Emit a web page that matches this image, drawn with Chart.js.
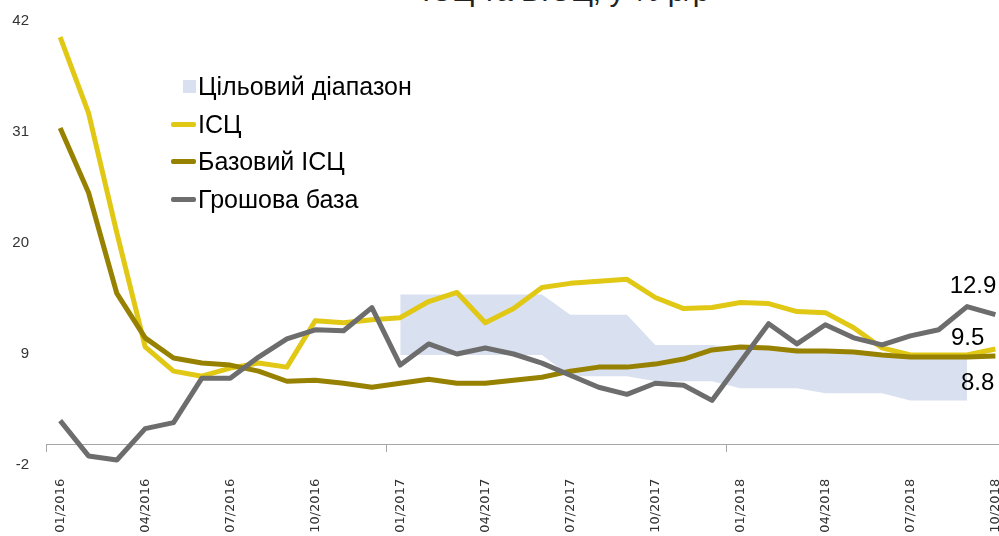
<!DOCTYPE html>
<html>
<head>
<meta charset="utf-8">
<script src="https://cdn.jsdelivr.net/npm/chart.js@4.4.1/dist/chart.umd.min.js"></script>
<style>
  html, body { margin: 0; padding: 0; background: #fff; overflow: hidden; }
  #wrap { position: relative; width: 999px; height: 536px; overflow: hidden; }
  #chart { position: absolute; left: 0; top: 0; }
  #title { position: absolute; left: 422px; top: -26px; font: 30px 'Liberation Sans', sans-serif; color: #222; white-space: nowrap; }
  #legend { position: absolute; left: 171px; top: 68px; font: 25px 'Liberation Sans Narrow', sans-serif; color: #000; }
  .row { height: 37.5px; display: flex; align-items: center; }
  .mark { width: 27px; display: flex; align-items: center; }
</style>
</head>
<body>
<div id="wrap">
  <div id="title">ІСЦ та БІСЦ, у % р/р</div>
  <canvas id="chart" width="1038" height="536"></canvas>
  <div id="legend"></div>
</div>
<script>
// місяці
const months = ['01/2016','02/2016','03/2016','04/2016','05/2016','06/2016','07/2016','08/2016','09/2016','10/2016','11/2016','12/2016',
                '01/2017','02/2017','03/2017','04/2017','05/2017','06/2017','07/2017','08/2017','09/2017','10/2017','11/2017','12/2017',
                '01/2018','02/2018','03/2018','04/2018','05/2018','06/2018','07/2018','08/2018','09/2018','10/2018'];

const cpi = [40.4, 32.9, 21.0, 9.7, 7.3, 6.8, 7.6, 8.1, 7.7, 12.3, 12.1, 12.4,
             12.6, 14.2, 15.1, 12.1, 13.5, 15.6, 16.0, 16.2, 16.4, 14.6, 13.5, 13.6,
             14.1, 14.0, 13.2, 13.1, 11.6, 9.6, 8.9, 8.9, 8.9, 9.5];

const coreCpi = [31.4, 25.0, 15.0, 10.6, 8.6, 8.1, 7.9, 7.3, 6.3, 6.4, 6.1, 5.7,
                 6.1, 6.5, 6.1, 6.1, 6.4, 6.7, 7.3, 7.7, 7.7, 8.0, 8.5, 9.4,
                 9.7, 9.6, 9.3, 9.3, 9.2, 8.9, 8.7, 8.7, 8.7, 8.8];

const monetaryBase = [2.4, -1.1, -1.5, 1.6, 2.2, 6.6, 6.6, 8.7, 10.5, 11.4, 11.3, 13.6,
                      7.9, 10.0, 9.0, 9.6, 9.0, 8.1, 6.9, 5.7, 5.0, 6.1, 5.9, 4.4,
                      8.2, 12.0, 10.0, 11.9, 10.6, 9.9, 10.8, 11.4, 13.7, 12.9];

// цільовий діапазон (нижня / верхня межа)
const targetLow = [null, null, null, null, null, null, null, null, null, null, null, null,
                   8.9, 8.9, 8.9, 8.9, 8.9, 8.9, 6.8, 6.8, 6.8, 6.3, 6.3, 6.3,
                   5.6, 5.6, 5.6, 5.1, 5.1, 5.1, 4.4, 4.4, 4.4, null];
const targetHigh = [null, null, null, null, null, null, null, null, null, null, null, null,
                    14.9, 14.9, 14.9, 14.9, 14.9, 14.9, 12.9, 12.9, 12.9, 9.9, 9.9, 9.9,
                    9.6, 9.6, 9.6, 9.1, 9.1, 9.1, 8.5, 8.5, 8.5, null];

const yTicks = [-2, 9, 20, 31, 42];

const BAND = '#D9E0EF';
const YELLOW = '#E0C815';
const OLIVE = '#978100';
const GREY = '#6D6D6D';

const endLabels = {
    id: 'endLabels',
    afterDatasetsDraw(chart) {
        const ctx = chart.ctx;
        ctx.save();
        ctx.font = '24px "Liberation Sans Narrow", sans-serif';
        ctx.fillStyle = '#000';
        ctx.textAlign = 'right';
        ctx.textBaseline = 'alphabetic';
        chart.data.datasets.forEach((ds, i) => {
            if (!ds.endLabel) return;
            const meta = chart.getDatasetMeta(i);
            const pt = meta.data[meta.data.length - 1];
            const v = ds.data[ds.data.length - 1];
            ctx.fillText(v.toFixed(1), pt.x + ds.endLabel[0], pt.y + ds.endLabel[1]);
        });
        ctx.restore();
    }
};

const lineDs = (label, data, color, order, endLabel) => ({
    label, data, borderColor: color, backgroundColor: color, borderWidth: 5,
    pointRadius: 0, tension: 0, fill: false, order, endLabel,
    borderJoinStyle: 'round', borderCapStyle: 'butt'
});

const chart = new Chart(document.getElementById('chart'), {
    type: 'line',
    data: {
        labels: months,
        datasets: [
            { label: '', data: targetLow, borderWidth: 0, pointRadius: 0, fill: false, order: 6, spanGaps: false },
            { label: 'Цільовий діапазон', data: targetHigh, borderWidth: 0, pointRadius: 0, backgroundColor: BAND,
              borderColor: BAND, fill: '-1', order: 5, spanGaps: false, legendBox: true },
            lineDs('ІСЦ', cpi, YELLOW, 3, [-11, -4]),
            lineDs('Базовий ІСЦ', coreCpi, OLIVE, 2, [-1, 34]),
            lineDs('Грошова база', monetaryBase, GREY, 1, [1, -22])
        ]
    },
    options: {
        responsive: false,
        animation: false,
        layout: { padding: { top: 21, bottom: 71, left: 0, right: 2 } },
        plugins: { legend: { display: false }, tooltip: { enabled: false }, title: { display: false } },
        scales: {
            x: {
                type: 'category',
                position: { y: 0 },
                offset: true,
                grid: {
                    offset: true, drawOnChartArea: false, drawTicks: true, tickLength: 7,
                    color: c => (c.index % 12 === 0 ? '#A6A6A6' : 'rgba(0,0,0,0)'), lineWidth: 1
                },
                border: { display: true, color: '#A6A6A6', width: 1 },
                ticks: {
                    autoSkip: false, maxRotation: 90, minRotation: 90, padding: 27,
                    color: '#333', font: { family: 'DejaVu Sans', size: 13 },
                    callback: function (val, i) { return i % 3 === 0 ? this.getLabelForValue(val) : ''; }
                }
            },
            y: {
                min: -2, max: 42,
                afterBuildTicks: s => { s.ticks = yTicks.map(v => ({ value: v })); },
                afterFit: s => { s.width = 46; },
                grid: { display: false, drawTicks: true, tickLength: 17 },
                border: { display: false },
                ticks: { padding: 0, color: '#333', font: { family: 'Liberation Sans', size: 15 } }
            }
        }
    },
    plugins: [endLabels]
});

// легенда
const legend = document.getElementById('legend');
chart.data.datasets.forEach(ds => {
    if (!ds.label) return;
    const row = document.createElement('div');
    row.className = 'row';
    const mark = document.createElement('div');
    mark.className = 'mark';
    const sw = document.createElement('div');
    if (ds.legendBox) {
        sw.style.cssText = `width:13px;height:13px;margin-left:12px;background:${ds.backgroundColor}`;
    } else {
        sw.style.cssText = `width:25px;height:5px;border-radius:2px;background:${ds.borderColor}`;
    }
    mark.appendChild(sw);
    const txt = document.createElement('span');
    txt.textContent = ds.label;
    row.appendChild(mark);
    row.appendChild(txt);
    legend.appendChild(row);
});
</script>
</body>
</html>
